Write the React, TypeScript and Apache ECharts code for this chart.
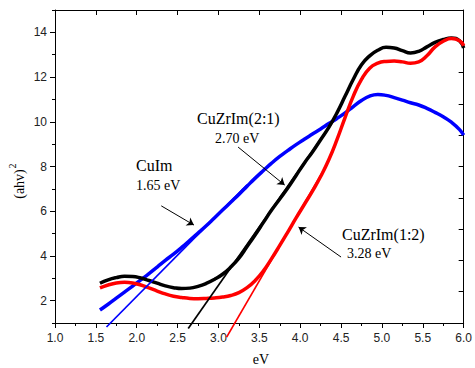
import React, { useEffect, useRef } from 'react';
import * as echarts from 'echarts';

// photon energy (eV) sampled along the measured curves
const energy = [
  1.55, 1.65, 1.75, 1.85, 1.95, 2.05, 2.15, 2.25, 2.35, 2.45,
  2.55, 2.65, 2.75, 2.85, 2.95, 3.05, 3.15, 3.25, 3.35, 3.45,
  3.55, 3.65, 3.75, 3.85, 3.95, 4.05, 4.15, 4.25, 4.35, 4.45,
  4.55, 4.65, 4.75, 4.85, 4.95, 5.05, 5.15, 5.25, 5.35, 5.45,
  5.55, 5.65, 5.75, 5.85, 5.95, 6.0,
];

// (ahv)^2 for CuZrIm(2:1) – black
const cuZrIm21 = [
  2.78, 2.93, 3.03, 3.09, 3.08, 3.01, 2.9, 2.78, 2.66, 2.58,
  2.54, 2.56, 2.64, 2.77, 2.95, 3.18, 3.5, 3.9, 4.42, 4.95,
  5.5, 6.05, 6.55, 7.05, 7.6, 8.15, 8.65, 9.2, 9.75, 10.4,
  11.15, 11.9, 12.55, 12.95, 13.2, 13.33, 13.3, 13.18, 13.08, 13.15,
  13.35, 13.55, 13.68, 13.75, 13.62, 13.3,
];

// (ahv)^2 for CuZrIm(1:2) – red
const cuZrIm12 = [
  2.57, 2.7, 2.79, 2.82, 2.79, 2.7, 2.57, 2.43, 2.3, 2.2,
  2.14, 2.1, 2.09, 2.1, 2.12, 2.16, 2.23, 2.36, 2.58, 2.9,
  3.33, 3.88, 4.47, 5.08, 5.7, 6.3, 6.9, 7.55, 8.3, 9.2,
  10.2, 11.15, 11.9, 12.4, 12.62, 12.7, 12.72, 12.68, 12.62, 12.68,
  12.95, 13.35, 13.6, 13.72, 13.62, 13.4,
];

// (ahv)^2 for CuIm – blue
const cuIm = [
  1.58, 1.84, 2.11, 2.38, 2.65, 2.93, 3.21, 3.5, 3.8, 4.08,
  4.38, 4.7, 5.02, 5.35, 5.7, 6.05, 6.4, 6.75, 7.12, 7.48,
  7.82, 8.15, 8.45, 8.72, 8.98, 9.22, 9.45, 9.68, 9.92, 10.15,
  10.4, 10.68, 10.95, 11.15, 11.22, 11.18, 11.08, 10.97, 10.85, 10.75,
  10.6, 10.42, 10.22, 9.98, 9.65, 9.4,
];

// linear (Tauc) fits: [energy, value] end points
const cuImFit = [[1.63, 0.82], [3.35, 7.18]];
const cuZrIm21Fit = [[2.63, 0.75], [4.4, 10.0]];
const cuZrIm12Fit = [[3.1, 0.37], [4.31, 7.98]];

// arrows: [from, to] in data coordinates
const arrowCuIm = [[2.3, 6.24], [2.7, 5.38]];
const arrowCuZrIm21 = [[3.24, 8.87], [3.81, 7.17]];
const arrowCuZrIm12 = [[4.5, 3.95], [3.98, 5.29]];

const yMajorTicks = [2, 4, 6, 8, 10, 12, 14];

const zip = (xs: number[], ys: number[]) => xs.map((x, i) => [x, ys[i]]);

export default function App() {
  const ref = useRef<HTMLDivElement>(null);
  useEffect(() => {
    if (!ref.current) return;
    const chart = echarts.init(ref.current, undefined, { renderer: 'svg' });
    const sans = 'Liberation Sans, Arial, sans-serif';
    const serif = 'Liberation Serif, Times New Roman, serif';
    const axisLineStyle = { lineStyle: { color: '#000', width: 1 } };
    const dataLine = (name: string, ys: number[], color: string) => ({
      name,
      type: 'line',
      data: zip(energy, ys),
      showSymbol: false,
      smooth: true,
      lineStyle: { color, width: 3.5 },
      itemStyle: { color },
      z: 3,
    });
    const fitLine = (name: string, pts: number[][], color: string) => ({
      name,
      type: 'line',
      data: pts,
      showSymbol: false,
      clip: false,
      lineStyle: { color, width: 1.7 },
      itemStyle: { color },
      z: 4,
    });
    const arrow = (pts: number[][]) => [{ coord: pts[0] }, { coord: pts[1] }];
    chart.setOption({
      animation: false,
      grid: { left: 55, right: 9, top: 10, bottom: 45 },
      xAxis: [
        {
          type: 'value', min: 1, max: 6, interval: 0.5, position: 'bottom',
          axisLine: axisLineStyle,
          axisTick: { inside: false, length: 5, lineStyle: { color: '#000' } },
          minorTick: { show: true, splitNumber: 2, length: 3, lineStyle: { color: '#000' } },
          axisLabel: { formatter: (v: number) => v.toFixed(1), fontFamily: sans, fontSize: 12, color: '#222', margin: 9 },
          splitLine: { show: false },
        },
        {
          type: 'value', min: 1, max: 6, interval: 0.5, position: 'top',
          axisLine: axisLineStyle,
          axisTick: { inside: true, length: 5, lineStyle: { color: '#000' } },
          axisLabel: { show: false },
          splitLine: { show: false },
        },
      ],
      yAxis: [
        {
          type: 'value', min: 1, max: 15, interval: 1, position: 'left',
          axisLine: axisLineStyle,
          axisTick: { inside: false, length: 3, lineStyle: { color: '#000' } },
          axisLabel: { customValues: yMajorTicks, fontFamily: sans, fontSize: 12, color: '#222', margin: 8 },
          splitLine: { show: false },
        },
        {
          type: 'value', min: 1, max: 15, interval: 1, position: 'left',
          axisLine: { show: false },
          axisTick: { inside: false, length: 5, customValues: yMajorTicks, lineStyle: { color: '#000' } },
          axisLabel: { show: false },
          splitLine: { show: false },
        },
        {
          type: 'value', min: 0, max: 10, interval: 1, position: 'right',
          axisLine: axisLineStyle,
          axisTick: { inside: true, length: 5, lineStyle: { color: '#000' } },
          axisLabel: { show: false },
          splitLine: { show: false },
        },
      ],
      series: [
        dataLine('CuIm', cuIm, '#0000ff'),
        dataLine('CuZrIm(2:1)', cuZrIm21, '#000000'),
        dataLine('CuZrIm(1:2)', cuZrIm12, '#ff0000'),
        fitLine('CuIm fit', cuImFit, '#0000ff'),
        fitLine('CuZrIm(2:1) fit', cuZrIm21Fit, '#000000'),
        fitLine('CuZrIm(1:2) fit', cuZrIm12Fit, '#ff0000'),
        {
          name: 'arrows',
          type: 'line',
          data: [],
          markLine: {
            silent: true,
            symbol: ['none', 'arrow'],
            symbolSize: 7,
            label: { show: false },
            lineStyle: { color: '#000', width: 1, type: 'solid' },
            data: [arrow(arrowCuIm), arrow(arrowCuZrIm21), arrow(arrowCuZrIm12)],
          },
        },
      ],
      graphic: [
        { type: 'text', x: 197, y: 118, style: { text: 'CuZrIm(2:1)', fontFamily: serif, fontSize: 16, fill: '#000', textVerticalAlign: 'middle' } },
        { type: 'text', x: 215, y: 138, style: { text: '2.70 eV', fontFamily: serif, fontSize: 14, fill: '#000', textVerticalAlign: 'middle' } },
        { type: 'text', x: 136, y: 165, style: { text: 'CuIm', fontFamily: serif, fontSize: 16, fill: '#000', textVerticalAlign: 'middle' } },
        { type: 'text', x: 136, y: 185, style: { text: '1.65 eV', fontFamily: serif, fontSize: 14, fill: '#000', textVerticalAlign: 'middle' } },
        { type: 'text', x: 342, y: 234, style: { text: 'CuZrIm(1:2)', fontFamily: serif, fontSize: 16, fill: '#000', textVerticalAlign: 'middle' } },
        { type: 'text', x: 347, y: 253, style: { text: '3.28 eV', fontFamily: serif, fontSize: 14, fill: '#000', textVerticalAlign: 'middle' } },
        { type: 'text', x: 261, y: 359, style: { text: 'eV', fontFamily: serif, fontSize: 14, fill: '#000', textAlign: 'center', textVerticalAlign: 'middle' } },
        {
          type: 'group', x: 19, y: 184, rotation: Math.PI / 2,
          children: [
            { type: 'text', x: 0, y: 0, style: { text: '(ahv)', fontFamily: serif, fontSize: 14, fill: '#000', textAlign: 'center', textVerticalAlign: 'middle' } },
            { type: 'text', x: 18, y: -7, style: { text: '2', fontFamily: serif, fontSize: 10, fill: '#000', textAlign: 'center', textVerticalAlign: 'middle' } },
          ],
        },
      ],
    });
    return () => chart.dispose();
  }, []);
  return <div ref={ref} style={{ position: 'absolute', left: 0, top: 0, width: 475, height: 368 }} />;
}
